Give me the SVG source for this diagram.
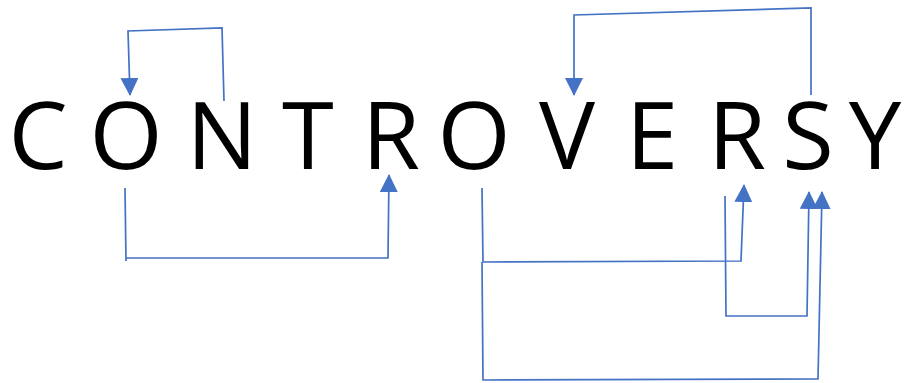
<svg xmlns="http://www.w3.org/2000/svg" width="913" height="383" viewBox="0 0 913 383">
<style>
.l{font-family:"Open Sans","Noto Sans","Liberation Sans",sans-serif;font-size:94px;fill:#000;text-anchor:middle}
.c{fill:none;stroke:#4472C4;stroke-width:1.7;marker-end:url(#ah)}
</style>
<defs>
<marker id="ah" markerUnits="userSpaceOnUse" markerWidth="18" markerHeight="18" refX="17" refY="9" orient="auto" viewBox="0 0 18 18">
<path d="M0,0 L18,9 L0,18 z" fill="#4472C4"/>
</marker>
</defs>
<rect width="913" height="383" fill="#fff"/>
<g id="n-C"><text class="l" x="38" y="169">C</text></g>
<g id="n-O1"><text class="l" x="126" y="169">O</text></g>
<g id="n-N"><text class="l" x="222" y="169">N</text></g>
<g id="n-T"><text class="l" x="308" y="169">T</text></g>
<g id="n-R1"><text class="l" x="391" y="169">R</text></g>
<g id="n-O2"><text class="l" x="474" y="169">O</text></g>
<g id="n-V"><text class="l" x="567" y="169">V</text></g>
<g id="n-E"><text class="l" x="652" y="169">E</text></g>
<g id="n-R2"><text class="l" x="737" y="169">R</text></g>
<g id="n-S"><text class="l" x="808" y="169">S</text></g>
<g id="n-Y"><text class="l" x="875" y="169">Y</text></g>
<g id="connectors">
<path class="c" d="M224,101 L222,28 L128,31 L130,95"/>
<path class="c" d="M125,188 L126,261 L126,258 L388,258 L389,175"/>
<path class="c" d="M811,95 L811,8 L574,15 L574,95"/>
<path class="c" d="M482,188 L483,262 L741,261 L744,185"/>
<path class="c" d="M725,196 L726,316 L807,316 L809,192"/>
<path class="c" d="M482,262 L483,380 L818,379 L822,192"/>
</g>
</svg>
